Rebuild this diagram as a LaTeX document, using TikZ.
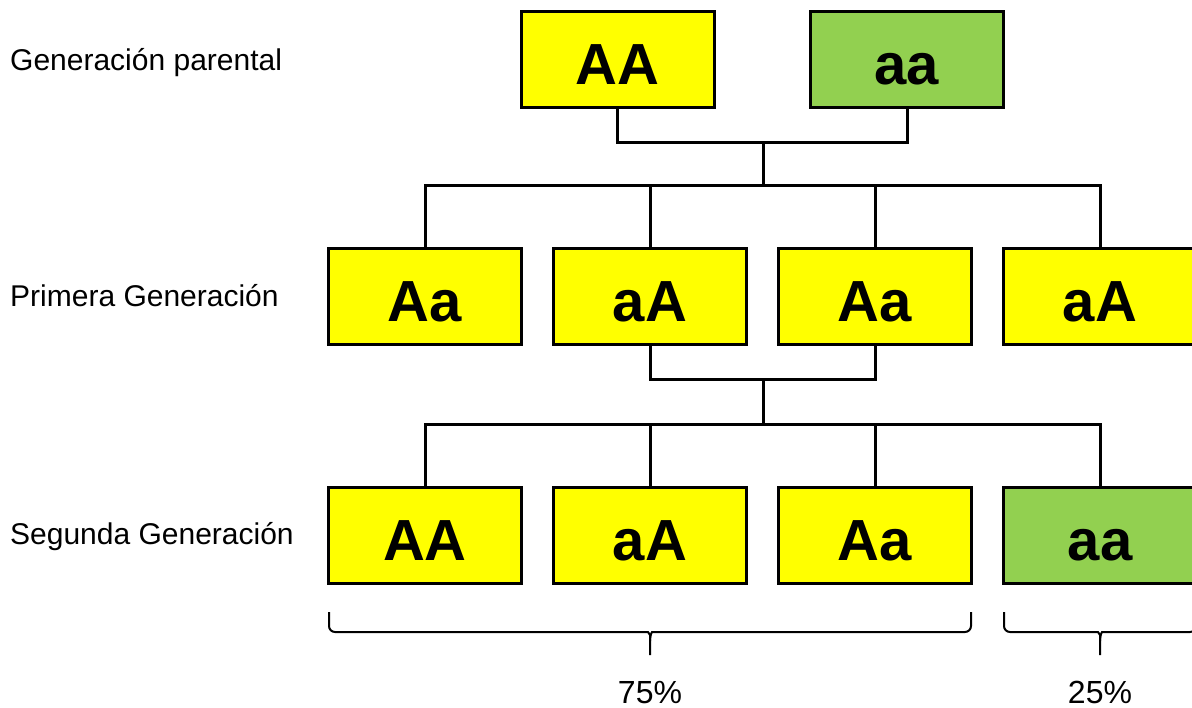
\documentclass[tikz,border=0pt]{standalone}
\usepackage{fontspec}
\setmainfont{Liberation Sans}
\definecolor{geneyellow}{HTML}{FFFF00}
\definecolor{genegreen}{HTML}{92D050}
\begin{document}
\begin{tikzpicture}[x=1pt,y=-1pt,
  genebox/.style={draw=black, line width=3pt, minimum width=193pt, minimum height=96pt,
    inner sep=0pt, text height=50pt, text depth=0pt,
    font=\fontsize{58}{58}\selectfont\bfseries},
  dom/.style={genebox, fill=geneyellow},
  rec/.style={genebox, fill=genegreen},
  link/.style={line width=3pt, line cap=rect},
  gen/.style={anchor=base west, inner sep=0pt, font=\fontsize{30}{30}\selectfont},
  pct/.style={anchor=base, inner sep=0pt, font=\fontsize{32}{32}\selectfont},
  bracepath/.style={line width=2pt, rounded corners=6pt}]
\useasboundingbox (0,0) rectangle (1192,708);
\begin{scope}
\clip (0,0) rectangle (1192,708);

% row labels
\node[gen] (l0) at (10,71) {Generación parental};
\node[gen] (l1) at (10,307) {Primera Generación};
\node[gen] (l2) at (10,544) {Segunda Generación};

% parents
\node[dom] (p1) at (617.5,60) {AA};
\node[rec] (p2) at (907,60) {aa};

% first generation
\node[dom] (f1) at (425,296.5) {Aa};
\node[dom] (f2) at (650,296.5) {aA};
\node[dom] (f3) at (875,296.5) {Aa};
\node[dom] (f4) at (1100,296.5) {aA};

% second generation
\node[dom] (s1) at (425,535.5) {AA};
\node[dom] (s2) at (650,535.5) {aA};
\node[dom] (s3) at (875,535.5) {Aa};
\node[rec] (s4) at (1100,535.5) {aa};

% junction points
\coordinate (j1) at (763,143);
\coordinate (j2) at (763,186);
\coordinate (j3) at (763,380);
\coordinate (j4) at (763,425);

% parents to first generation
\draw[link] (p1.south) |- (j1) -| (p2.south);
\draw[link] (j1) -- (j2);
\draw[link] (f1.north) |- (j2) -| (f4.north);
\draw[link] (f2.north) -- (f2.north |- j2);
\draw[link] (f3.north) -- (f3.north |- j2);

% crossing of the middle pair to second generation
\draw[link] (f2.south) |- (j3) -| (f3.south);
\draw[link] (j3) -- (j4);
\draw[link] (s1.north) |- (j4) -| (s4.north);
\draw[link] (s2.north) -- (s2.north |- j4);
\draw[link] (s3.north) -- (s3.north |- j4);

% braces under the second generation
\coordinate (b1l) at (329,612);
\coordinate (b1r) at (971,612);
\coordinate (b1t) at (650,655);
\coordinate (b2l) at (1004,612);
\coordinate (b2r) at (1196,612);
\coordinate (b2t) at (1100,655);

\draw[bracepath] (b1l) -- (329,632) -- (642,632)
  .. controls (648,632) and (650,635) .. (650,641) -- (b1t);
\draw[bracepath] (b1r) -- (971,632) -- (658,632)
  .. controls (652,632) and (650,635) .. (650,641);
\draw[bracepath] (b2l) -- (1004,632) -- (1092,632)
  .. controls (1098,632) and (1100,635) .. (1100,641) -- (b2t);
\draw[bracepath] (b2r) -- (1196,632) -- (1108,632)
  .. controls (1102,632) and (1100,635) .. (1100,641);

\node[pct] (q1) at (650,703) {75\%};
\node[pct] (q2) at (1100,703) {25\%};
\end{scope}
\end{tikzpicture}
\end{document}
